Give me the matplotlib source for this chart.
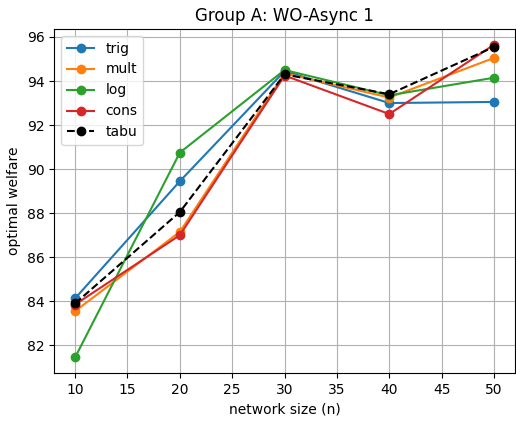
import matplotlib
matplotlib.use("Agg")
import matplotlib.pyplot as plt

sizes = [10, 20, 30, 40, 50]
trig = [84.13, 89.45, 94.45, 93.0, 93.05]
mult = [83.55, 87.15, 94.35, 93.25, 95.05]
log = [81.45, 90.75, 94.5, 93.35, 94.15]
cons = [83.85, 87.0, 94.25, 92.5, 95.65]
tabu = [83.9, 88.05, 94.3, 93.4, 95.55]

fig, ax = plt.subplots(figsize=(5.16, 4.21), dpi=100)
ax.plot(sizes, trig, marker='o', label='trig')
ax.plot(sizes, mult, marker='o', label='mult')
ax.plot(sizes, log, marker='o', label='log')
ax.plot(sizes, cons, marker='o', label='cons')
ax.plot(sizes, tabu, marker='o', linestyle='--', color='black', label='tabu')

ax.set_xlabel('network size (n)')
ax.set_ylabel('optimal welfare')
ax.set_title('Group A: WO-Async 1')
ax.grid(True)
ax.legend(loc='upper left')
fig.subplots_adjust(left=0.105, right=0.998, top=0.931, bottom=0.114)
fig.savefig('out.png')
